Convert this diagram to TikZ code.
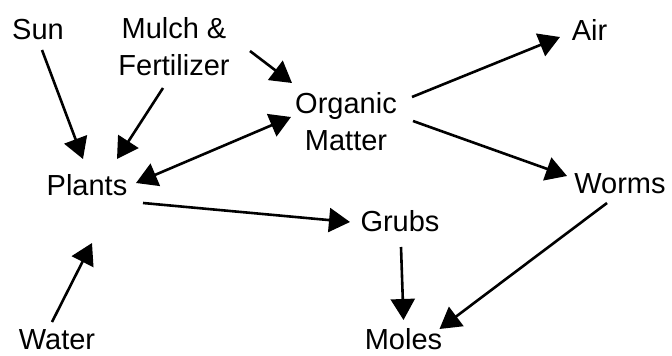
\documentclass[tikz,border=0pt]{standalone}
\usepackage{fontspec}
\setmainfont{Liberation Sans}
\usetikzlibrary{arrows.meta,calc}
\begin{document}
\begin{tikzpicture}[x=1pt,y=-1pt,
  lbl/.style={inner sep=0pt,outer sep=0pt,anchor=base,font=\fontsize{29}{37}\selectfont,align=center},
  conn/.style={line width=2.6pt,-{Triangle[length=21pt,width=24pt]}},
  conn2/.style={line width=2.6pt,{Triangle[length=21pt,width=24pt]}-{Triangle[length=21pt,width=24pt]}}]
\useasboundingbox (0,0) rectangle (672,356);
\node[lbl] (sun) at (38,39) {Sun};
\node[lbl] (mulch) at (174,75) {Mulch \&\\Fertilizer};
\node[lbl] (organic) at (346,150) {Organic\\Matter};
\node[lbl] (air) at (589.5,40) {Air};
\node[lbl] (plants) at (87,195) {Plants};
\node[lbl] (worms) at (620,193) {Worms};
\node[lbl] (grubs) at (400,231) {Grubs};
\node[lbl] (water) at (57,349) {Water};
\node[lbl] (moles) at (403.5,349) {Moles};
\draw[conn] ($(sun.base)+(4,11)$) -- ($(plants.base)+(-4,-36)$);
\draw[conn] ($(mulch.base)+(-11,13)$) -- ($(plants.base)+(30,-36)$);
\draw[conn] ($(mulch.base)+(76,-24)$) -- ($(organic.base)+(-54,-67)$);
\draw[conn2] ($(plants.base)+(49,-12)$) -- ($(organic.base)+(-55,-33)$);
\draw[conn] ($(organic.base)+(66,-53)$) -- ($(air.base)+(-29.5,-3)$);
\draw[conn] ($(organic.base)+(67,-29)$) -- ($(worms.base)+(-53,-17)$);
\draw[conn] ($(plants.base)+(56,8)$) -- ($(grubs.base)+(-50,-9)$);
\draw[conn] ($(water.base)+(-5,-27)$) -- ($(plants.base)+(5,48)$);
\draw[conn] ($(grubs.base)+(1,16)$) -- ($(moles.base)+(0,-29)$);
\draw[conn] ($(worms.base)+(-13,10)$) -- ($(moles.base)+(36,-20)$);
\end{tikzpicture}
\end{document}
